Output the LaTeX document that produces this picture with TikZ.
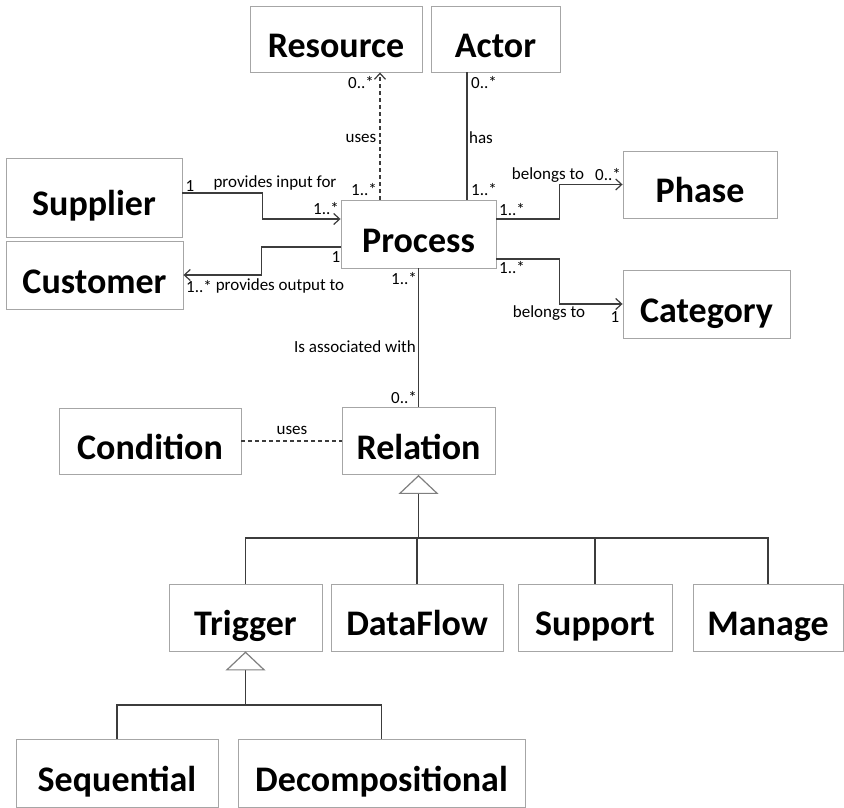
\documentclass[tikz,border=0pt]{standalone}
\usepackage{fontspec}
\setmainfont{Carlito}
\usetikzlibrary{arrows.meta}
\definecolor{boxline}{HTML}{A6A6A6}
\definecolor{wire}{HTML}{3C3C3C}
\definecolor{headline}{HTML}{7F7F7F}

\begin{document}
\begin{tikzpicture}[
    x=1pt, y=-1pt,
    cls/.style={
        rectangle,
        draw=boxline,
        line width=.9pt,
        inner sep=0pt,
        text height=36pt,
        text depth=0pt,
        fill=white,
        font=\fontsize{36}{42}\selectfont\bfseries
    },
    lbl/.style={
        inner sep=0pt,
        font=\fontsize{17}{20}\selectfont
    },
    assoc/.style={
        line width=1.2pt,
        draw=wire
    },
    navarrow/.style={
        -{Straight Barb[length=6pt, width=11pt]},
        line width=1.2pt,
        draw=wire
    },
    gen/.style={
        -{Triangle[open, length=19pt, width=40pt, color=headline]},
        line width=1.2pt,
        draw=wire
    }
]
\useasboundingbox (0,0) rectangle (844,807);

% ------------------------------------------------
% Classes
% ------------------------------------------------
\node[cls, minimum width=172pt, minimum height=66pt] (Resource) at (336, 39) {Resource};
\node[cls, minimum width=129pt, minimum height=66pt] (Actor) at (495.5, 39) {Actor};

\node[cls, minimum width=176pt, minimum height=79pt] (Supplier) at (94, 197.5) {Supplier};
\node[cls, minimum width=177pt, minimum height=68pt] (Customer) at (94.5, 275) {Customer};
\node[cls, minimum width=155pt, minimum height=68pt] (Process) at (418.5, 234) {Process};
\node[cls, minimum width=154pt, minimum height=67pt] (Phase) at (700, 184.5) {Phase};
\node[cls, minimum width=167pt, minimum height=68pt] (Category) at (706.5, 304) {Category};

\node[cls, minimum width=182pt, minimum height=66pt] (Condition) at (150, 441) {Condition};
\node[cls, minimum width=153pt, minimum height=67pt] (Relation) at (418.5, 441) {Relation};

\node[cls, minimum width=153pt, minimum height=67pt] (Trigger) at (245.5, 617.5) {Trigger};
\node[cls, minimum width=172pt, minimum height=67pt] (DataFlow) at (417, 617.5) {DataFlow};
\node[cls, minimum width=154pt, minimum height=67pt] (Support) at (595, 617.5) {Support};
\node[cls, minimum width=150pt, minimum height=67pt] (Manage) at (768, 617.5) {Manage};

\node[cls, minimum width=202pt, minimum height=68pt] (Sequential) at (117, 773) {Sequential};
\node[cls, minimum width=287pt, minimum height=68pt] (Decompositional) at (381.5, 773) {Decompositional};

% ------------------------------------------------
% Associations of Process
% ------------------------------------------------
\draw[navarrow, dashed, dash pattern=on 4pt off 3pt] ([xshift=-38.5pt]Process.north) -- ([xshift=44pt]Resource.south);
\draw[assoc] ([xshift=48.5pt]Process.north) -- ([xshift=-28.5pt]Actor.south);

\draw[navarrow] ([yshift=4.5pt]Supplier.east) -- ++(80,0) |- ([yshift=15pt]Process.west);
\draw[navarrow] ([yshift=-13pt]Process.west) -- ++(-79,0) |- (Customer.east);

\draw[navarrow] ([yshift=15pt]Process.east) -- ++(63,0) |- (Phase.west);
\draw[navarrow] ([yshift=-25pt]Process.east) -- ++(63,0) |- (Category.west);

\draw[assoc] (Process.south) -- (Relation.north);
\draw[assoc, dashed, dash pattern=on 4pt off 3pt] (Condition.east) -- (Relation.west);

% ------------------------------------------------
% Multiplicities and role names
% ------------------------------------------------
\node[lbl] (mResA) at (361, 83) {0..*};
\node[lbl] (uRes)  at (361, 138) {uses};
\node[lbl] (mResB) at (364, 190) {1..*};

\node[lbl] (mActA) at (484, 83) {0..*};
\node[lbl] (hAct)  at (481, 138) {has};
\node[lbl] (mActB) at (484, 190) {1..*};

\node[lbl] (mSupA) at (190, 186) {1};
\node[lbl] (pSup)  at (275, 183) {provides input for};
\node[lbl] (mSupB) at (326, 209) {1..*};

\node[lbl] (mCusA) at (336, 257) {1};
\node[lbl] (mCusB) at (199, 287) {1..*};
\node[lbl] (pCus)  at (280, 286) {provides output to};

\node[lbl] (bPha)  at (548, 175) {belongs to};
\node[lbl] (mPhaA) at (608, 175) {0..*};
\node[lbl] (mPhaB) at (512, 210) {1..*};

\node[lbl] (mCatA) at (512, 268) {1..*};
\node[lbl] (bCat)  at (549, 313) {belongs to};
\node[lbl] (mCatB) at (615, 317) {1};

\node[lbl] (mRelA) at (404, 279) {1..*};
\node[lbl] (aRel)  at (355, 347) {Is associated with};
\node[lbl] (mRelB) at (404, 398) {0..*};

\node[lbl] (uCon)  at (292, 430) {uses};

% ------------------------------------------------
% Generalisations
% ------------------------------------------------
\coordinate (relbar) at (418.5, 538);
\draw[gen] (relbar) -- (Relation.south);
\foreach \c in {Trigger,DataFlow,Support,Manage}{
  \draw[assoc] (\c.north) |- (relbar);
}

\coordinate (trigbar) at (245.5, 705);
\draw[gen] (trigbar) -- (Trigger.south);
\foreach \c in {Sequential,Decompositional}{
  \draw[assoc] (\c.north) |- (trigbar);
}

\end{tikzpicture}
\end{document}
